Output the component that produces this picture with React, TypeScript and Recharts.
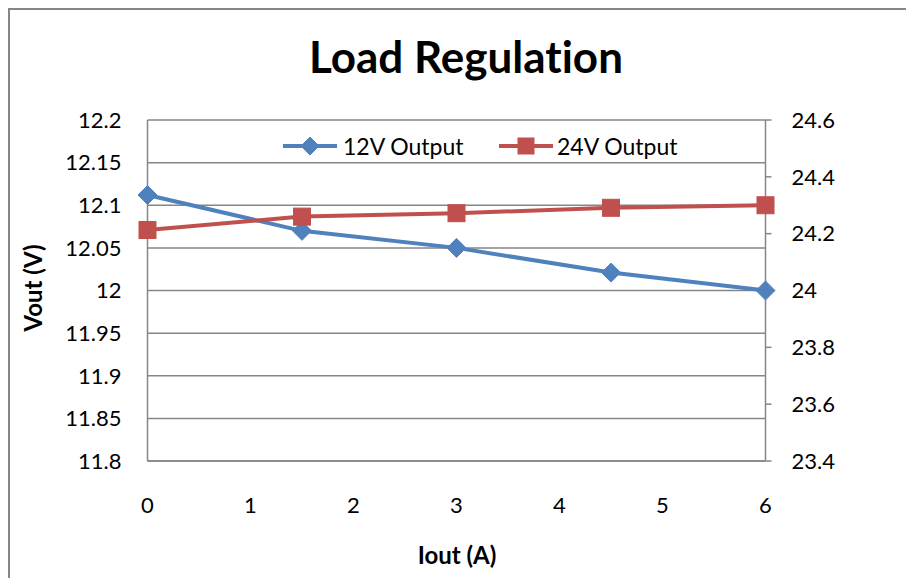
import React from 'react';
import { LineChart, Line, XAxis, YAxis, CartesianGrid, Legend } from 'recharts';

// Load regulation measurements
const currentA = [0, 1.5, 3, 4.5, 6];
const out12V = [12.112, 12.07, 12.05, 12.021, 12.0];
const out24V = [24.213, 24.26, 24.272, 24.291, 24.3];
const seriesNames = ['12V Output', '24V Output'];

const xTicks = [0, 1, 2, 3, 4, 5, 6];
const leftTicks = [11.8, 11.85, 11.9, 11.95, 12, 12.05, 12.1, 12.15, 12.2];
const rightTicks = [23.4, 23.6, 23.8, 24, 24.2, 24.4, 24.6];

const BLUE = '#4F81BD';
const RED = '#C0504D';
const GRID = '#868686';
const FONT = 'Lato, sans-serif';

const data = currentA.map((x, i) => ({ iout: x, v12: out12V[i], v24: out24V[i] }));

const Diamond = ({ cx, cy, r = 9.5 }: any) => (
    <polygon
        points={`${cx},${cy - r} ${cx + r},${cy} ${cx},${cy + r} ${cx - r},${cy}`}
        fill={BLUE}
        stroke={BLUE}
    />
);

const Square = ({ cx, cy, s = 17 }: any) => (
    <rect x={cx - s / 2} y={cy - s / 2} width={s} height={s} fill={RED} stroke={RED} />
);

const renderLegend = () => (
    <div style={{ display: 'flex', alignItems: 'center', fontFamily: FONT, fontSize: 23, color: '#000' }}>
        <div style={{ display: 'flex', alignItems: 'center', width: 216 }}>
            <svg width={54} height={22}>
                <line x1={0} y1={11} x2={54} y2={11} stroke={BLUE} strokeWidth={4} />
                <Diamond cx={27} cy={11} r={9} />
            </svg>
            <span style={{ marginLeft: 6 }}>{seriesNames[0]}</span>
        </div>
        <div style={{ display: 'flex', alignItems: 'center' }}>
            <svg width={54} height={22}>
                <line x1={0} y1={11} x2={54} y2={11} stroke={RED} strokeWidth={4} />
                <Square cx={27} cy={11} s={16} />
            </svg>
            <span style={{ marginLeft: 4 }}>{seriesNames[1]}</span>
        </div>
    </div>
);

export default function App() {
    const tickStyle = { fill: '#000', fontSize: 22, fontFamily: FONT };
    return (
        <div
            style={{
                position: 'relative',
                width: 904,
                height: 568,
                borderTop: `2px solid ${GRID}`,
                borderLeft: `2px solid ${GRID}`,
                background: '#fff',
            }}
        >
            <div
                style={{
                    position: 'absolute',
                    left: 456,
                    top: 25,
                    transform: 'translateX(-50%)',
                    whiteSpace: 'nowrap',
                    fontFamily: FONT,
                    fontWeight: 700,
                    fontSize: 44,
                    lineHeight: '43px',
                    fontVariantLigatures: 'none',
                }}
            >
                Load Regulation
            </div>
            <div
                style={{
                    position: 'absolute',
                    left: 22.5,
                    top: 278,
                    transform: 'translate(-50%, -50%) rotate(-90deg)',
                    whiteSpace: 'nowrap',
                    fontFamily: FONT,
                    fontWeight: 700,
                    fontSize: 24,
                    lineHeight: '24px',
                }}
            >
                Vout (V)
            </div>
            <div
                style={{
                    position: 'absolute',
                    left: 447,
                    top: 545,
                    transform: 'translate(-50%, -50%)',
                    whiteSpace: 'nowrap',
                    fontFamily: FONT,
                    fontWeight: 700,
                    fontSize: 24,
                    lineHeight: '24px',
                }}
            >
                Iout (A)
            </div>
            <LineChart width={904} height={568} data={data} margin={{ top: 110, right: 0, bottom: 0, left: 0 }}>
                <CartesianGrid yAxisId="left" vertical={false} stroke={GRID} strokeWidth={1.5} />
                <XAxis
                    dataKey="iout"
                    type="number"
                    domain={[0, 6]}
                    ticks={xTicks}
                    interval={0}
                    height={117}
                    tickLine={false}
                    tickSize={0}
                    tickMargin={36}
                    axisLine={{ stroke: GRID, strokeWidth: 1.5 }}
                    tick={tickStyle}
                />
                <YAxis
                    yAxisId="left"
                    width={137.5}
                    domain={[11.8, 12.2]}
                    ticks={leftTicks}
                    interval={0}
                    tickLine={false}
                    tickSize={0}
                    tickMargin={26}
                    axisLine={{ stroke: GRID, strokeWidth: 1.5 }}
                    tick={tickStyle}
                />
                <YAxis
                    yAxisId="right"
                    orientation="right"
                    width={148.5}
                    domain={[23.4, 24.6]}
                    ticks={rightTicks}
                    interval={0}
                    tickSize={6}
                    tickMargin={20}
                    tickLine={{ stroke: GRID, strokeWidth: 1.5 }}
                    axisLine={{ stroke: GRID, strokeWidth: 1.5 }}
                    tick={{ ...tickStyle, textAnchor: 'start' }}
                />
                <Legend
                    layout="horizontal"
                    verticalAlign="middle"
                    align="center"
                    content={renderLegend}
                    wrapperStyle={{ left: 273, top: 122, width: 'auto', height: 22 }}
                />
                <Line
                    yAxisId="left"
                    type="linear"
                    dataKey="v12"
                    name={seriesNames[0]}
                    stroke={BLUE}
                    strokeWidth={4}
                    dot={(p: any) => <Diamond key={`d-${p.index}`} cx={p.cx} cy={p.cy} />}
                    activeDot={false}
                    isAnimationActive={false}
                />
                <Line
                    yAxisId="right"
                    type="linear"
                    dataKey="v24"
                    name={seriesNames[1]}
                    stroke={RED}
                    strokeWidth={4}
                    dot={(p: any) => <Square key={`s-${p.index}`} cx={p.cx} cy={p.cy} />}
                    activeDot={false}
                    isAnimationActive={false}
                />
            </LineChart>
        </div>
    );
}
